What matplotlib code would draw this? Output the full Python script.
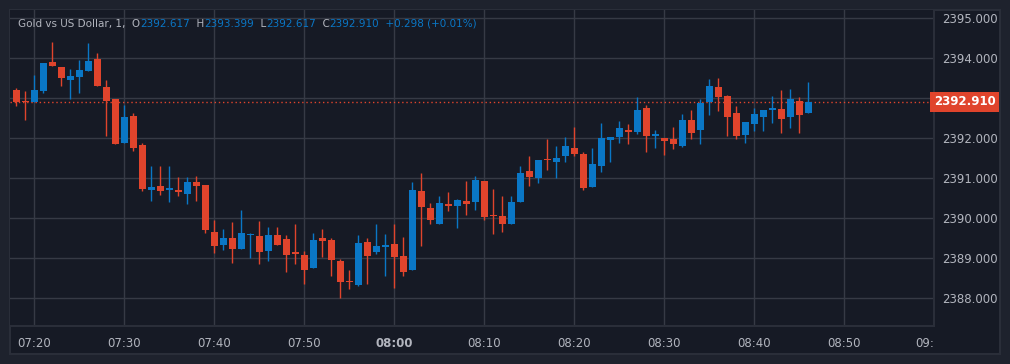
import matplotlib.pyplot as plt
from matplotlib.patches import Rectangle

# 1-minute candles, 07:18 -> 08:46
start_minute = 7 * 60 + 18
opens = [2393.21, 2392.91, 2392.89, 2393.17, 2393.91, 2393.78, 2393.44, 2393.52, 2393.67, 2393.98,
         2393.28, 2392.98, 2391.87, 2392.56, 2391.83, 2390.69, 2390.81, 2390.70, 2390.71, 2390.59,
         2390.91, 2390.83, 2389.66, 2389.32, 2389.50, 2389.23, 2389.57, 2389.55, 2389.18, 2389.57,
         2389.47, 2389.15, 2389.07, 2388.74, 2389.50, 2389.45, 2388.93, 2388.41, 2388.33, 2389.40,
         2389.16, 2389.28, 2389.35, 2389.05, 2388.71, 2390.67, 2390.25, 2389.86, 2390.35, 2390.31,
         2390.42, 2390.41, 2390.92, 2390.06, 2390.05, 2389.86, 2390.41, 2391.17, 2391.00, 2391.46,
         2391.41, 2391.54, 2391.76, 2391.59, 2390.77, 2391.31, 2391.96, 2392.03, 2392.18, 2392.16,
         2392.76, 2392.06, 2392.01, 2391.98, 2391.81, 2392.46, 2392.21, 2392.89, 2393.28, 2393.06,
         2392.63, 2392.08, 2392.36, 2392.53, 2392.71, 2392.73, 2392.53, 2392.93, 2392.617]
highs = [2393.26, 2393.18, 2393.58, 2393.88, 2394.41, 2393.78, 2393.73, 2393.96, 2394.38, 2394.13,
         2393.46, 2392.98, 2392.83, 2392.63, 2391.88, 2391.31, 2391.31, 2391.31, 2391.03, 2391.03,
         2391.06, 2390.83, 2389.96, 2389.72, 2389.89, 2390.19, 2389.62, 2389.92, 2389.77, 2389.77,
         2389.57, 2389.84, 2389.17, 2389.62, 2389.72, 2389.50, 2388.98, 2388.70, 2389.57, 2389.50,
         2389.84, 2389.60, 2389.84, 2389.52, 2390.89, 2391.12, 2390.37, 2390.56, 2390.65, 2390.47,
         2390.92, 2391.04, 2390.92, 2390.72, 2390.55, 2390.55, 2391.29, 2391.56, 2391.44, 2391.98,
         2391.81, 2392.03, 2392.28, 2391.66, 2391.76, 2392.38, 2392.03, 2392.43, 2392.36, 2393.03,
         2392.83, 2392.21, 2392.01, 2392.28, 2392.61, 2392.71, 2392.98, 2393.48, 2393.51, 2393.08,
         2392.81, 2392.41, 2392.76, 2392.71, 2393.06, 2393.21, 2393.23, 2393.03, 2393.399]
lows = [2392.79, 2392.44, 2392.89, 2393.12, 2393.79, 2393.29, 2392.97, 2393.12, 2393.67, 2393.29,
        2392.04, 2391.84, 2391.87, 2391.67, 2390.67, 2390.42, 2390.57, 2390.39, 2390.54, 2390.34,
        2390.42, 2389.62, 2389.12, 2389.21, 2388.88, 2389.23, 2389.00, 2388.85, 2388.93, 2389.33,
        2388.66, 2388.86, 2388.36, 2388.74, 2389.03, 2388.54, 2387.99, 2388.22, 2388.29, 2388.34,
        2389.11, 2388.54, 2388.26, 2388.56, 2388.71, 2389.31, 2389.84, 2389.86, 2390.18, 2389.76,
        2390.08, 2390.21, 2389.96, 2389.59, 2389.66, 2389.86, 2390.41, 2390.79, 2390.88, 2391.19,
        2390.99, 2391.41, 2391.54, 2390.69, 2390.77, 2391.14, 2391.39, 2391.88, 2391.86, 2392.11,
        2391.66, 2391.76, 2391.58, 2391.73, 2391.78, 2391.98, 2391.86, 2392.58, 2392.68, 2392.06,
        2391.98, 2391.88, 2392.18, 2392.18, 2392.38, 2392.13, 2392.26, 2392.13, 2392.617]
closes = [2392.89, 2392.89, 2393.21, 2393.88, 2393.79, 2393.49, 2393.56, 2393.71, 2393.93, 2393.29,
          2392.92, 2391.84, 2392.53, 2391.74, 2390.72, 2390.78, 2390.67, 2390.75, 2390.64, 2390.91,
          2390.79, 2389.69, 2389.30, 2389.50, 2389.22, 2389.62, 2389.59, 2389.16, 2389.57, 2389.33,
          2389.08, 2389.11, 2388.69, 2389.45, 2389.42, 2388.96, 2388.41, 2388.40, 2389.37, 2389.05,
          2389.30, 2389.32, 2389.03, 2388.66, 2390.69, 2390.28, 2389.96, 2390.37, 2390.31, 2390.45,
          2390.35, 2390.94, 2390.03, 2390.04, 2389.84, 2390.40, 2391.12, 2391.02, 2391.44, 2391.44,
          2391.51, 2391.81, 2391.59, 2390.74, 2391.34, 2392.01, 2392.03, 2392.26, 2392.16, 2392.71,
          2392.06, 2392.08, 2391.93, 2391.86, 2392.46, 2392.13, 2392.88, 2393.31, 2393.03, 2392.53,
          2392.06, 2392.41, 2392.61, 2392.71, 2392.73, 2392.48, 2392.98, 2392.58, 2392.910]

price_ticks = [2388, 2389, 2390, 2391, 2392, 2393, 2394, 2395]
time_labels = ['07:20', '07:30', '07:40', '07:50', '08:00', '08:10', '08:20', '08:30', '08:40', '08:50', '09:']

up = '#0a77c6'
down = '#e0442c'
bg = '#161a25'
grid = '#363a45'
txt = '#b2b5be'

W, H = 1010, 364
fig = plt.figure(figsize=(W / 100, H / 100), dpi=100, facecolor='#1e222d')
fig.patches.append(Rectangle((10 / W, 10 / H), 990 / W, 344 / H, transform=fig.transFigure,
                             facecolor=bg, edgecolor='#2a2e39', linewidth=1.5, zorder=-5))
ax = fig.add_axes([10 / W, 38 / H, 924 / W, 316 / H], facecolor=bg)

n = len(opens)
xs = list(range(n))
for i in xs:
    o, h, l, c = opens[i], highs[i], lows[i], closes[i]
    col = up if c >= o else down
    ax.vlines(i, l, h, color=col, linewidth=1, zorder=3)
    bottom = min(o, c)
    height = max(abs(c - o), 0.035)
    ax.bar(i, height, bottom=bottom, width=0.78, color=col, linewidth=0, zorder=4)

last = closes[-1]
ax.axhline(last, color=down, linestyle=(0, (1, 2)), linewidth=1, zorder=2)

ax.set_xlim(-0.72, 101.83)
ax.set_ylim(2387.3, 2395.2)

tick_pos = [2 + 10 * k for k in range(len(time_labels))]
ax.set_xticks(tick_pos)
ax.set_xticklabels(time_labels)
ax.set_yticks(price_ticks)
# the 2393 label sits under the last-price tag
ax.set_yticklabels(['' if p == 2393 else '%.3f' % p for p in price_ticks])
ax.yaxis.tick_right()
ax.tick_params(axis='both', length=0, colors=txt, labelsize=8.5)
ax.tick_params(axis='y', pad=6)
ax.tick_params(axis='x', pad=8)
for lab in ax.get_xticklabels():
    if lab.get_text() == '08:00':
        lab.set_fontweight('bold')
    if lab.get_text() == '09:':
        lab.set_horizontalalignment('right')
ax.grid(True, color=grid, linewidth=1)
ax.set_axisbelow(True)
for s in ['top', 'left']:
    ax.spines[s].set_visible(False)
for s in ['bottom', 'right']:
    ax.spines[s].set_color('#2a2e39')
    ax.spines[s].set_linewidth(1.5)

# last price tag on the price scale
ax.text(1.0, last, '%.3f' % last, transform=ax.get_yaxis_transform(), ha='left', va='center',
        color='white', fontsize=8.5, fontweight='bold', clip_on=False, zorder=6,
        bbox=dict(boxstyle='square,pad=0.3', facecolor=down, edgecolor='none'))

# legend line at the top
pieces = [('Gold vs US Dollar, 1,  O', txt), ('2392.617', up), ('  H', txt), ('2393.399', up),
          ('  L', txt), ('2392.617', up), ('  C', txt), ('2392.910', up),
          ('  +0.298 (+0.01%)', up)]
prev = ax.text(8 / 924, 1 - 14 / 316, pieces[0][0], transform=ax.transAxes, color=pieces[0][1],
               fontsize=7.5, va='center', ha='left', zorder=7)
for s, c in pieces[1:]:
    prev = ax.annotate(s, xy=(1, 0.5), xycoords=prev, va='center', ha='left', color=c,
                       fontsize=7.5, zorder=7)

fig.savefig('out.png', dpi=100, facecolor=fig.get_facecolor())
